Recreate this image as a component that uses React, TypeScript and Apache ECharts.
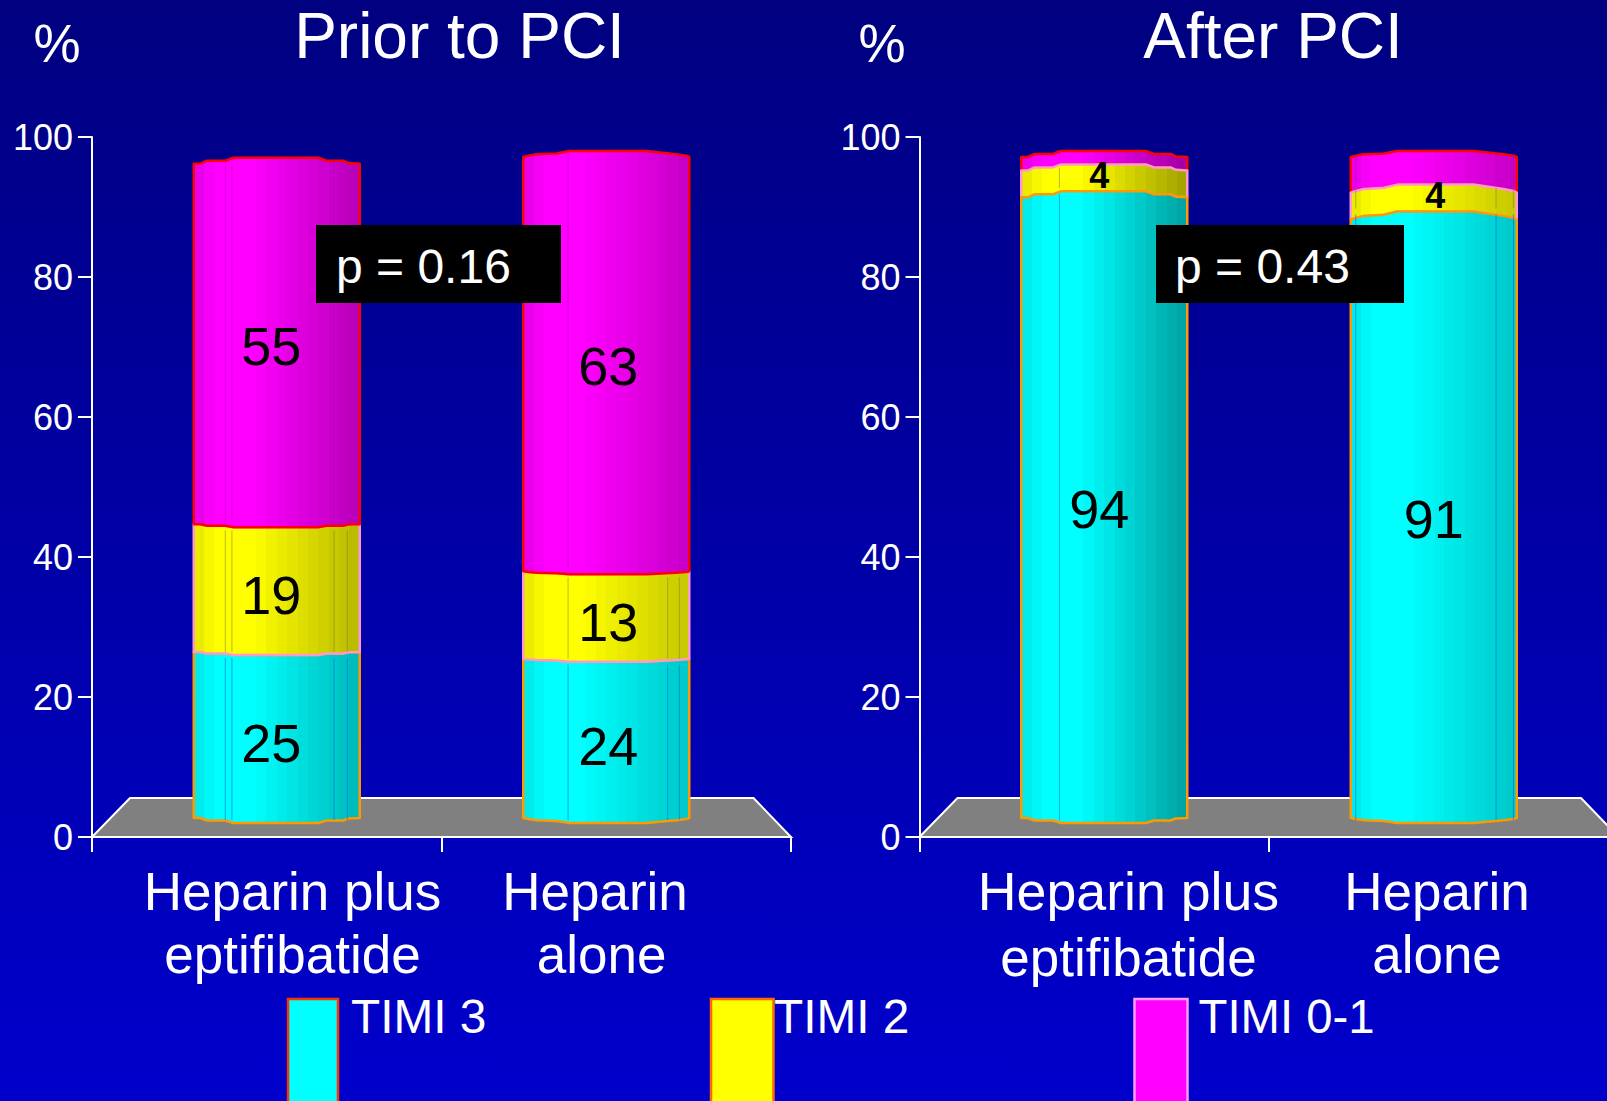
import React, { useEffect, useRef } from "react";
import * as echarts from "echarts";

const categories = ["Heparin plus eptifibatide", "Heparin alone"];
const seriesNames = ["TIMI 3", "TIMI 2", "TIMI 0-1"];
const priorTimi3 = [25, 24];
const priorTimi2 = [19, 13];
const priorTimi01 = [55, 63];
const afterTimi3 = [94, 91];
const afterTimi2 = [4, 4];
const afterTimi01 = [2, 5];
const priorShown = [true, true, true];
const afterShown = [true, true, false];
const yTicks = { min: 0, max: 100, interval: 20 };

const W = 1607;
const H = 1101;
const CANVAS_W = 1660; // the right panel's axis runs past the page edge, as in the picture
const GRID_TOP = 137;
const GRID_H = 700;
const GRID_W = 699;
const PANEL_X = [92, 919.5];
const FONT = '"Liberation Sans", Arial, sans-serif';
const BAR_W = 166;
const BAR_SHIFT = [10, -10];
const BASE_COLORS = [[0, 255, 255], [255, 255, 0], [255, 0, 255]];
const STROKES = ["#ff9900", "#ff99cc", "#ff0000"];
const SEAM_COLORS = ["rgba(0,110,230,0.6)", "rgba(120,120,60,0.5)", "rgba(150,0,170,0.3)"];
const END_SHADE = [[0.72, 0.78], [0.63, 0.78]];
const PROFILES = [
  [[0, 1], [0.04, 1], [0.08, 0.5], [0.19, 0.5], [0.24, 0], [0.75, 0], [0.8, 0.5], [0.9, 0.5], [0.93, 0.9], [1, 1]],
  [[0, 1], [0.03, 0.8], [0.08, 0.55], [0.2, 0.4], [0.28, 0], [0.74, 0], [0.92, 0.55], [0.98, 0.8], [1, 1]],
];
const SEAMS = [
  [[0.19, 0.23, 0.845, 0.925], [0.27, 0.87, 0.94]],
  [[0.23], [0.03, 0.875, 0.98]],
];
const LABEL_DX = [[-5.5, 2], [-5, 0]];
const LABEL_DY = [3.5, 1.5];
const SMALL_LABEL_DX = [[0, 0], [-5, 1.5]];
const INNER_DROP = [[-3, -3], [6, 8]];

// The drawn cylinders stand on a floor: a value maps to 2 + 0.96 * value on the axis.
const floorValue = (v: number) => 2 + 0.96 * v;

function bandGradient(rgb: number[], endShade: number) {
  const n = 16;
  const stops: { offset: number; color: string }[] = [];
  for (let i = 0; i < n; i++) {
    const f = (i + 0.5) / n;
    let s = 1;
    if (f < 0.14) s = 0.9 + (0.1 * f) / 0.14;
    else if (f > 0.35) s = 1 - ((1 - endShade) * (f - 0.35)) / 0.65;
    const c = `rgb(${rgb.map((x) => Math.round(x * s)).join(",")})`;
    stops.push({ offset: i / n, color: c }, { offset: (i + 1) / n, color: c });
  }
  return new echarts.graphic.LinearGradient(0, 0, 1, 0, stops);
}

function makeRenderItem(panel: number, segment: number, shown: boolean[]) {
  return (_params: any, api: any) => {
    const cat = api.value(0);
    const value = api.value(1);
    const base = api.value(2);
    const cx = api.coord([cat, 0])[0] + BAR_SHIFT[cat];
    const left = cx - BAR_W / 2;
    const yBottom = api.coord([cat, floorValue(base)])[1];
    const yTop = api.coord([cat, floorValue(base + value)])[1];
    const prof = PROFILES[cat];
    const innerDrop = INNER_DROP[panel][cat]; // drop of the edges of the inner rims
    const topDrop = segment === 2 ? 6 : innerDrop;
    const botDrop = segment === 0 ? -5 : innerDrop;
    const pts: number[][] = [];
    prof.forEach(([f, p]) => pts.push([left + f * BAR_W, yTop + topDrop * p]));
    [...prof].reverse().forEach(([f, p]) => pts.push([left + f * BAR_W, yBottom + botDrop * p]));
    const children: any[] = [
      {
        type: "polygon",
        shape: { points: pts },
        style: {
          fill: bandGradient(BASE_COLORS[segment], END_SHADE[panel][cat]),
          stroke: STROKES[segment],
          lineWidth: 2.5,
          lineJoin: "round",
        },
      },
    ];
    SEAMS[panel][cat].forEach((f) => {
      const x = left + f * BAR_W;
      children.push({
        type: "line",
        shape: { x1: x, y1: yTop + 3, x2: x, y2: yBottom - 3 },
        style: { stroke: SEAM_COLORS[segment], lineWidth: 1 },
      });
    });
    if (shown[segment]) {
      const small = yBottom - yTop < 40;
      children.push({
        type: "text",
        z2: 20,
        style: {
          text: String(value),
          x: cx + (small ? SMALL_LABEL_DX[panel][cat] : LABEL_DX[panel][cat]),
          y: (yTop + yBottom) / 2 + (small ? -2.5 : LABEL_DY[panel]),
          fill: "#000000",
          font: small ? `bold 36px ${FONT}` : `54px ${FONT}`,
          align: "center",
          verticalAlign: "middle",
        },
      });
    }
    return { type: "group", children };
  };
}

function panelSeries(panel: number, stacks: number[][], shown: boolean[]) {
  return stacks.map((vals, s) => ({
    type: "custom",
    name: seriesNames[s],
    xAxisIndex: panel,
    yAxisIndex: panel,
    coordinateSystem: "cartesian2d",
    clip: false,
    z: panel === 0 ? 3 + s : 5 - s,
    data: vals.map((v, i) => [i, v, stacks.slice(0, s).reduce((a, arr) => a + arr[i], 0)]),
    renderItem: makeRenderItem(panel, s, shown),
  }));
}

const text = (t: string, x: number, y: number, size: number, align = "center", fill = "#ffffff", z = 12) => ({
  type: "text",
  z,
  style: { text: t, x, y, fill, font: `${size}px ${FONT}`, align, verticalAlign: "middle" },
});

const floor = (x: number) => ({
  type: "polygon",
  z: 1,
  shape: { points: [[x, 837], [x + 38, 798], [x + 661.5, 798], [x + 699, 837]] },
  style: { fill: "#808080", stroke: "#ffffff", lineWidth: 2 },
});

const swatch = (x: number, w: number, fill: string, stroke: string) => ({
  type: "rect",
  z: 12,
  shape: { x, y: 999, width: w, height: 140 },
  style: { fill, stroke, lineWidth: 2.5 },
});

const pBox = (x: number, w: number) => ({
  type: "rect",
  z: 11,
  shape: { x, y: 225, width: w, height: 78 },
  style: { fill: "#000000" },
});

const axisStyle = { show: true, lineStyle: { color: "#ffffff", width: 2 } };

export default function App() {
  const ref = useRef<HTMLDivElement>(null);
  useEffect(() => {
    const chart = echarts.init(ref.current!, undefined, { renderer: "svg" });
    const makeX = (i: number) => ({
      type: "category",
      gridIndex: i,
      data: categories,
      axisLine: axisStyle,
      axisTick: { show: true, length: 15, alignWithLabel: false, lineStyle: { color: "#ffffff", width: 2 } },
      axisLabel: { show: false },
      splitLine: { show: false },
    });
    const makeY = (i: number) => ({
      type: "value",
      gridIndex: i,
      min: yTicks.min,
      max: yTicks.max,
      interval: yTicks.interval,
      axisLine: axisStyle,
      axisTick: { show: true, length: 14, lineStyle: { color: "#ffffff", width: 2 } },
      axisLabel: { color: "#ffffff", fontFamily: FONT, fontSize: 36, margin: 19 },
      splitLine: { show: false },
    });
    chart.setOption({
      animation: false,
      backgroundColor: new echarts.graphic.LinearGradient(0, 0, 0, 1, [
        { offset: 0, color: "#000080" },
        { offset: 1, color: "#0000cc" },
      ]),
      grid: PANEL_X.map((x) => ({ left: x, top: GRID_TOP, width: GRID_W, height: GRID_H, containLabel: false })),
      xAxis: [makeX(0), makeX(1)],
      yAxis: [makeY(0), makeY(1)],
      series: [
        ...panelSeries(0, [priorTimi3, priorTimi2, priorTimi01], priorShown),
        ...panelSeries(1, [afterTimi3, afterTimi2, afterTimi01], afterShown),
      ],
      graphic: [
        floor(PANEL_X[0]),
        floor(PANEL_X[1]),
        text("Prior to PCI", 459.5, 36, 64),
        text("After PCI", 1273, 36, 64),
        text("%", 57, 43, 53),
        text("%", 882, 43, 53),
        text("Heparin plus", 292.5, 891, 53),
        text("eptifibatide", 292.5, 954.5, 53),
        text("Heparin", 595, 891, 53),
        text("alone", 601.7, 954.5, 53),
        text("Heparin plus", 1128.5, 891, 53.7),
        text("eptifibatide", 1128.5, 957, 53),
        text("Heparin", 1437, 891, 53),
        text("alone", 1437, 954.5, 53),
        pBox(316, 245),
        pBox(1156, 248),
        text("p = 0.16", 336, 266, 48, "left"),
        text("p = 0.43", 1175, 266, 48, "left"),
        swatch(288, 50, "#00ffff", "#ff3300"),
        swatch(711, 62.5, "#ffff00", "#ff6600"),
        swatch(1134.5, 53, "#ff00ff", "#ff99ff"),
        text(seriesNames[0], 351, 1016, 47.8, "left"),
        text(seriesNames[1], 774, 1016, 47.8, "left"),
        text(seriesNames[2], 1198.5, 1016, 47.3, "left"),
      ],
    });
    return () => chart.dispose();
  }, []);
  return (
    <div style={{ position: "fixed", left: 0, top: 0, width: W, height: H, overflow: "hidden" }}>
      <div ref={ref} style={{ width: CANVAS_W, height: H }} />
    </div>
  );
}
